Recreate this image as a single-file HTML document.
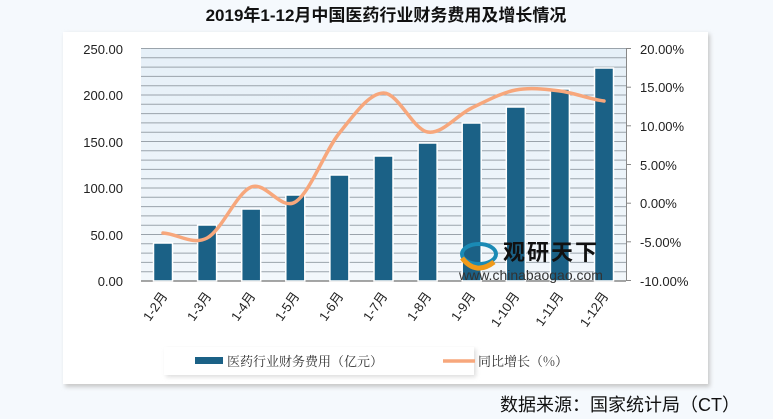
<!DOCTYPE html>
<html><head><meta charset="utf-8"><style>
html,body{margin:0;padding:0;background:#f5f9fd;}
svg{display:block;font-family:"Liberation Sans","Noto Sans CJK SC",sans-serif;}
</style></head><body>
<svg width="773" height="419" viewBox="0 0 773 419" xmlns="http://www.w3.org/2000/svg">
<defs>
<linearGradient id="bg" x1="0" y1="0" x2="0" y2="1"><stop offset="0" stop-color="#e6f0f8"/><stop offset="1" stop-color="#f2f7fb"/></linearGradient>
<filter id="sh" x="-10%" y="-10%" width="130%" height="130%"><feGaussianBlur stdDeviation="2"/></filter>
</defs>
<rect width="773" height="419" fill="#f5f9fd"/>
<text x="386" y="21" text-anchor="middle" font-size="17" font-weight="bold" fill="#111">2019年1-12月中国医药行业财务费用及增长情况</text>
<rect x="65" y="34" width="645" height="353" fill="#c8c8c8" filter="url(#sh)"/>
<rect x="63" y="32" width="645" height="352" fill="#fff"/>
<rect x="141" y="48" width="485" height="233" fill="url(#bg)"/>
<g stroke="#9aa3ab" stroke-width="1">
<line x1="141" y1="48.5" x2="626" y2="48.5"/><line x1="141" y1="57.8" x2="626" y2="57.8"/><line x1="141" y1="67.1" x2="626" y2="67.1"/><line x1="141" y1="76.4" x2="626" y2="76.4"/><line x1="141" y1="85.7" x2="626" y2="85.7"/><line x1="141" y1="95" x2="626" y2="95"/><line x1="141" y1="104.3" x2="626" y2="104.3"/><line x1="141" y1="113.6" x2="626" y2="113.6"/><line x1="141" y1="122.9" x2="626" y2="122.9"/><line x1="141" y1="132.2" x2="626" y2="132.2"/><line x1="141" y1="141.5" x2="626" y2="141.5"/><line x1="141" y1="150.8" x2="626" y2="150.8"/><line x1="141" y1="160.1" x2="626" y2="160.1"/><line x1="141" y1="169.4" x2="626" y2="169.4"/><line x1="141" y1="178.7" x2="626" y2="178.7"/><line x1="141" y1="188" x2="626" y2="188"/><line x1="141" y1="197.3" x2="626" y2="197.3"/><line x1="141" y1="206.6" x2="626" y2="206.6"/><line x1="141" y1="215.9" x2="626" y2="215.9"/><line x1="141" y1="225.2" x2="626" y2="225.2"/><line x1="141" y1="234.5" x2="626" y2="234.5"/><line x1="141" y1="243.8" x2="626" y2="243.8"/><line x1="141" y1="253.1" x2="626" y2="253.1"/><line x1="141" y1="262.4" x2="626" y2="262.4"/><line x1="141" y1="271.7" x2="626" y2="271.7"/>
</g>
<line x1="141" y1="281" x2="626" y2="281" stroke="#888" stroke-width="1.5"/>
<line x1="626.5" y1="48" x2="626.5" y2="281" stroke="#888"/>
<g stroke="#888"><line x1="626" y1="48.5" x2="631" y2="48.5"/><line x1="626" y1="87.2" x2="631" y2="87.2"/><line x1="626" y1="125.8" x2="631" y2="125.8"/><line x1="626" y1="164.5" x2="631" y2="164.5"/><line x1="626" y1="203.2" x2="631" y2="203.2"/><line x1="626" y1="241.8" x2="631" y2="241.8"/><line x1="626" y1="280.5" x2="631" y2="280.5"/></g>
<g fill="#1b6186" stroke="#fff" stroke-width="1.5">
<rect x="153.5" y="243" width="19" height="38"/>
<rect x="197.6" y="225" width="19" height="56"/>
<rect x="241.7" y="209" width="19" height="72"/>
<rect x="285.8" y="195" width="19" height="86"/>
<rect x="329.9" y="175" width="19" height="106"/>
<rect x="374" y="156" width="19" height="125"/>
<rect x="418.1" y="143" width="19" height="138"/>
<rect x="462.2" y="123" width="19" height="158"/>
<rect x="506.3" y="107" width="19" height="174"/>
<rect x="550.4" y="89" width="19" height="192"/>
<rect x="594.5" y="68" width="19" height="213"/>
</g>
<path d="M163,233 C177.7,233.8 192.4,245.7 207.1,238 C221.8,230.3 236.5,193 251.2,187 C265.9,181 280.6,211 295.3,202 C310,193 324.7,151.2 339.4,133 C354.1,114.8 368.8,93.2 383.5,93 C398.2,92.8 412.9,129.5 427.6,132 C442.3,134.5 457,115 471.7,108 C486.4,101 501.1,92.8 515.8,90 C530.5,87.2 545.2,89.2 559.9,91 C574.6,92.8 589.3,99.3 604,101" fill="none" stroke="#f7a77c" stroke-width="3.5" stroke-linecap="round"/>
<g>
<ellipse cx="479" cy="254" rx="17" ry="10" fill="none" stroke="#1a8ab5" stroke-width="4"/>
<path d="M462,258 Q476,276 494,262" fill="none" stroke="#f09a1a" stroke-width="5"/>
<text x="503" y="260" font-size="22" font-weight="bold" fill="#111" font-family="'Noto Sans CJK SC',sans-serif" letter-spacing="2">观研天下</text>
<text x="459" y="280" font-size="14" fill="#333">www.chinabaogao.com</text>
</g>
<g font-size="13" fill="#222" text-anchor="end">
<text x="123" y="54">250.00</text><text x="123" y="100">200.00</text><text x="123" y="147">150.00</text><text x="123" y="193">100.00</text><text x="123" y="240">50.00</text><text x="123" y="286">0.00</text>
</g>
<g font-size="13" fill="#222">
<text x="640" y="54">20.00%</text><text x="640" y="92">15.00%</text><text x="640" y="131">10.00%</text><text x="640" y="170">5.00%</text><text x="640" y="208">0.00%</text><text x="640" y="247">-5.00%</text><text x="640" y="286">-10.00%</text>
</g>
<g font-size="13" fill="#222" text-anchor="end">
<text transform="translate(168,296) rotate(-55)">1-2月</text>
<text transform="translate(212,296) rotate(-55)">1-3月</text>
<text transform="translate(256,296) rotate(-55)">1-4月</text>
<text transform="translate(300,296) rotate(-55)">1-5月</text>
<text transform="translate(344,296) rotate(-55)">1-6月</text>
<text transform="translate(388,296) rotate(-55)">1-7月</text>
<text transform="translate(432,296) rotate(-55)">1-8月</text>
<text transform="translate(476,296) rotate(-55)">1-9月</text>
<text transform="translate(520,296) rotate(-55)">1-10月</text>
<text transform="translate(564,296) rotate(-55)">1-11月</text>
<text transform="translate(609,296) rotate(-55)">1-12月</text>
</g>
<rect x="166" y="349" width="310" height="28" fill="#ddd" filter="url(#sh)"/>
<rect x="164" y="347" width="310" height="28" fill="#fff"/>
<rect x="195" y="357" width="28" height="7" fill="#1b6186"/>
<text x="227" y="366" font-size="13" fill="#333" font-family="'Noto Serif CJK SC',serif">医药行业财务费用（亿元）</text>
<line x1="443" y1="361" x2="475" y2="361" stroke="#f7a77c" stroke-width="3.5"/>
<text x="478" y="366" font-size="13" fill="#333" font-family="'Noto Serif CJK SC',serif">同比增长（%）</text>
<text x="740" y="411" text-anchor="end" font-size="18" fill="#111">数据来源：国家统计局（CT）</text>
</svg>
</body></html>
